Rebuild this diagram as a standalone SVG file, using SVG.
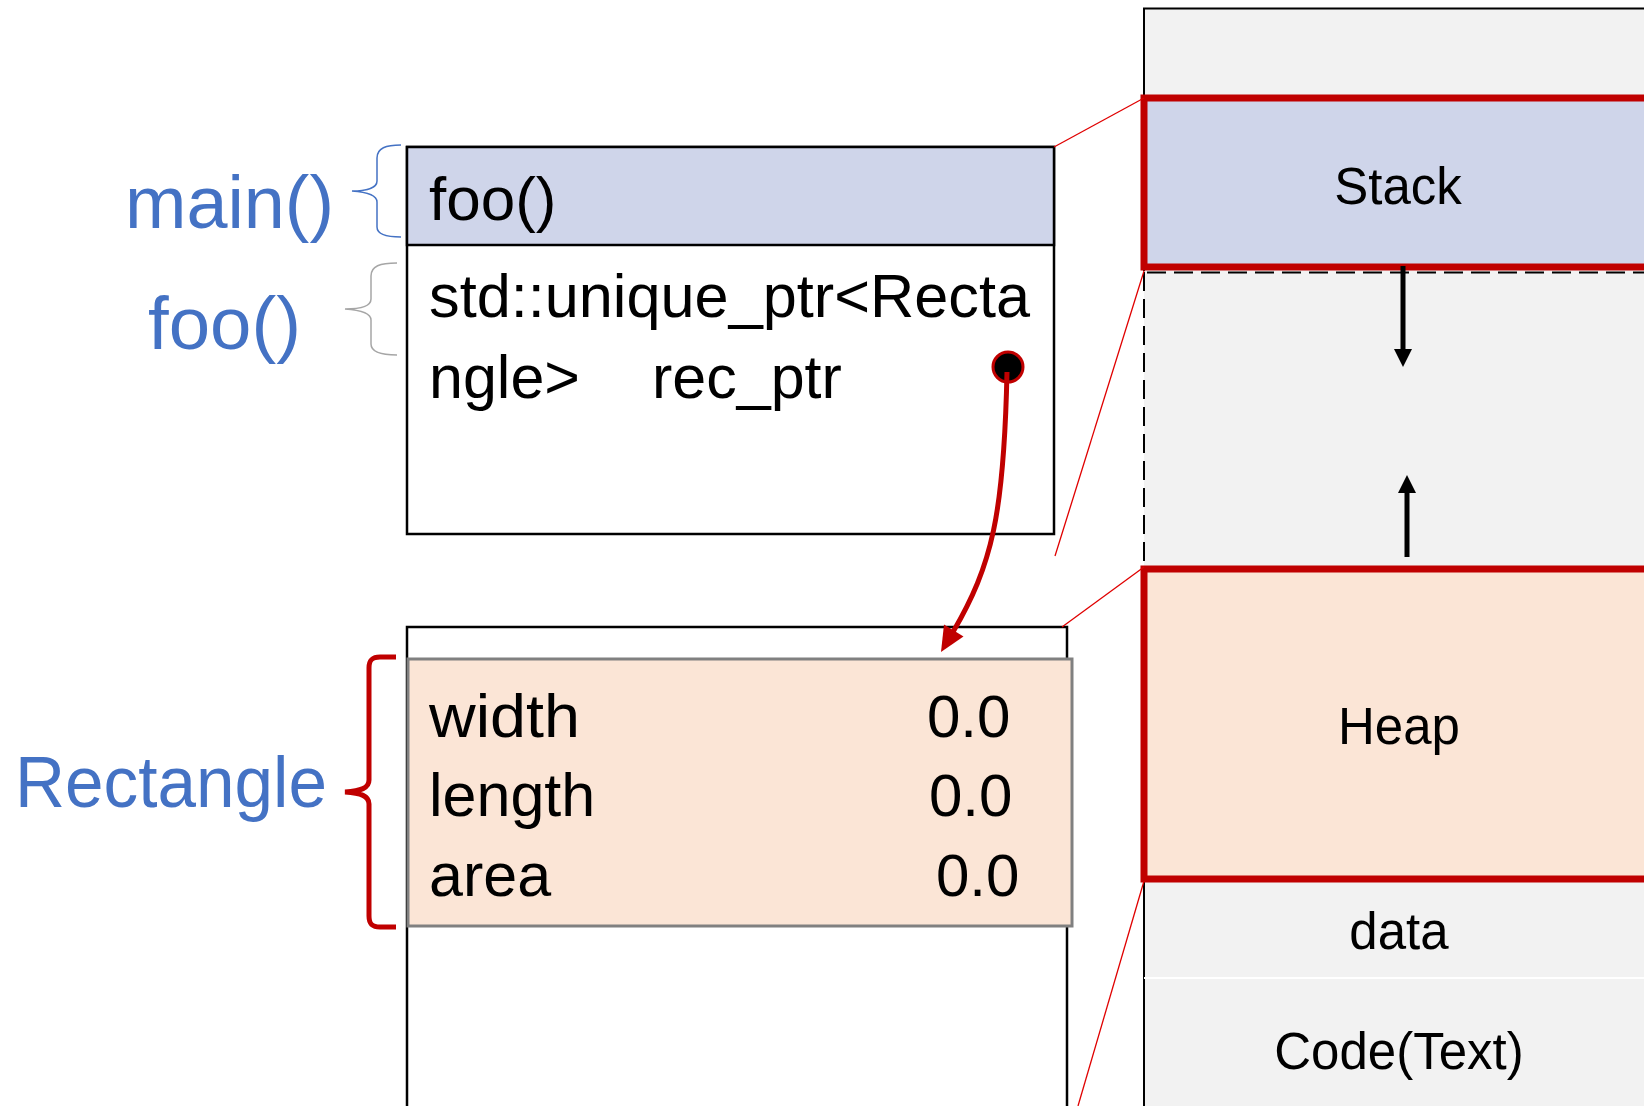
<svg xmlns="http://www.w3.org/2000/svg" width="1644" height="1106" viewBox="0 0 1644 1106">
  <style>
    .t { font-family: "Liberation Sans", Arial, sans-serif; fill: #000; }
    .lbl { font-family: "Liberation Sans", Arial, sans-serif; fill: #4472c4; }
    .box { stroke: #000; stroke-width: 2.5; }
    .seg { stroke: #c00000; stroke-width: 7; }
    .zoom { stroke: #e00000; stroke-width: 1.3; fill: none; }
    .mid { text-anchor: middle; }
    .dash { fill: none; stroke: #000; stroke-width: 2; stroke-dasharray: 19,8; }
    .grow { stroke: #000; stroke-width: 5; }
  </style>
  <defs>
    <path id="head" d="M-9,-18 L9,-18 L0,0 Z" fill="#000"/>
  </defs>

  <rect width="1644" height="1106" fill="#fff"/>

  <!-- process memory layout -->
  <g id="memory">
    <rect x="1144" y="8.5" width="520" height="1120" fill="#f2f2f2"/>
    <path d="M1144,1106 L1144,879 M1144,271 L1144,8.5 L1644,8.5" fill="none" stroke="#000" stroke-width="2"/>
    <path d="M1144,272 L1144,567" class="dash"/>
    <path d="M1147,272.5 L1644,272.5" class="dash"/>
    <line x1="1144" y1="978" x2="1644" y2="978" stroke="#fff" stroke-width="2"/>
  </g>

  <g id="stack">
    <rect x="1144" y="98" width="520" height="169" fill="#cfd5ea" class="seg"/>
    <text x="1398" y="204" class="t mid" font-size="51">Stack</text>
  </g>

  <g id="heap">
    <rect x="1144" y="569" width="520" height="310" fill="#fbe5d6" class="seg"/>
    <text x="1399" y="744" class="t mid" font-size="51">Heap</text>
  </g>

  <g id="data">
    <text x="1399" y="949" class="t mid" font-size="51">data</text>
  </g>

  <g id="code">
    <text x="1399" y="1069" class="t mid" font-size="51">Code(Text)</text>
  </g>

  <!-- stack frame of foo() -->
  <g id="frame">
    <rect x="407" y="147" width="647" height="387" fill="#fff" class="box"/>
    <rect x="407" y="147" width="647" height="98" fill="#cfd5ea" class="box"/>
    <text x="429" y="220" class="t" font-size="62">foo()</text>
    <text x="429" y="317" class="t" font-size="61" textLength="601" lengthAdjust="spacingAndGlyphs">std::unique_ptr&lt;Recta</text>
    <text x="429" y="398" class="t" font-size="61">ngle&gt;</text>
    <text x="652" y="398" class="t" font-size="61">rec_ptr</text>
    <circle cx="1008" cy="367" r="15" fill="#000" stroke="#c00000" stroke-width="3"/>
  </g>

  <!-- heap block holding the Rectangle -->
  <g id="heapblock">
    <rect x="407" y="627" width="660" height="520" fill="#fff" class="box"/>
    <rect x="408" y="659" width="664" height="267" fill="#fbe5d6" stroke="#808080" stroke-width="3"/>
    <text x="429" y="737" class="t" font-size="62" textLength="151" lengthAdjust="spacingAndGlyphs">width</text>
    <text x="429" y="816" class="t" font-size="61">length</text>
    <text x="429" y="896" class="t" font-size="61">area</text>
    <text x="927" y="737" class="t" font-size="60">0.0</text>
    <text x="929" y="816" class="t" font-size="60">0.0</text>
    <text x="936" y="896" class="t" font-size="60">0.0</text>
  </g>

  <!-- side labels with braces -->
  <g id="label-main">
    <text x="125" y="228" class="lbl" font-size="75" textLength="209" lengthAdjust="spacingAndGlyphs">main()</text>
    <path d="M401,145 C386,145 377,148 377,158 L377,181 C377,188 366,191 352,191 C366,192 377,195 377,202 L377,227 C377,234 386,237 401,237" fill="none" stroke="#4472c4" stroke-width="1.5"/>
  </g>

  <g id="label-foo">
    <text x="148" y="349" class="lbl" font-size="75" textLength="153" lengthAdjust="spacingAndGlyphs">foo()</text>
    <path d="M397,263 C380,263 371,266 371,276 L371,299 C371,306 360,309 345,309 C360,310 371,313 371,320 L371,344 C371,352 380,355 397,355" fill="none" stroke="#a6a6a6" stroke-width="1.5"/>
  </g>

  <g id="label-rectangle">
    <text x="15" y="807" class="lbl" font-size="72" textLength="312" lengthAdjust="spacingAndGlyphs">Rectangle</text>
    <path d="M396,657 L380,657 C372,657 369,660 369,668 L369,780 C369,788 361,791 345,792 C361,793 369,796 369,804 L369,916 C369,924 372,927 380,927 L396,927" fill="none" stroke="#c00000" stroke-width="5"/>
  </g>

  <g id="connectors">
    <!-- growth directions: stack grows down, heap grows up -->
    <line x1="1403" y1="266" x2="1403" y2="351" class="grow"/>
    <use href="#head" transform="translate(1403,367)"/>
    <line x1="1407" y1="557" x2="1407" y2="491" class="grow"/>
    <use href="#head" transform="translate(1407,475) rotate(180)"/>
    <!-- rec_ptr points to the heap object -->
    <path d="M1007,372 C1004,515 992,565 953,632" fill="none" stroke="#c00000" stroke-width="5"/>
    <path d="M941,652 L963.5,636.5 L944,624.5 Z" fill="#c00000"/>
    <!-- zoom guides -->
    <line x1="1054" y1="147" x2="1144" y2="98" class="zoom"/>
    <line x1="1144" y1="271" x2="1055" y2="556" class="zoom"/>
    <line x1="1062" y1="627" x2="1144" y2="567" class="zoom"/>
    <line x1="1144" y1="881" x2="1078" y2="1106" class="zoom"/>
  </g>
</svg>
